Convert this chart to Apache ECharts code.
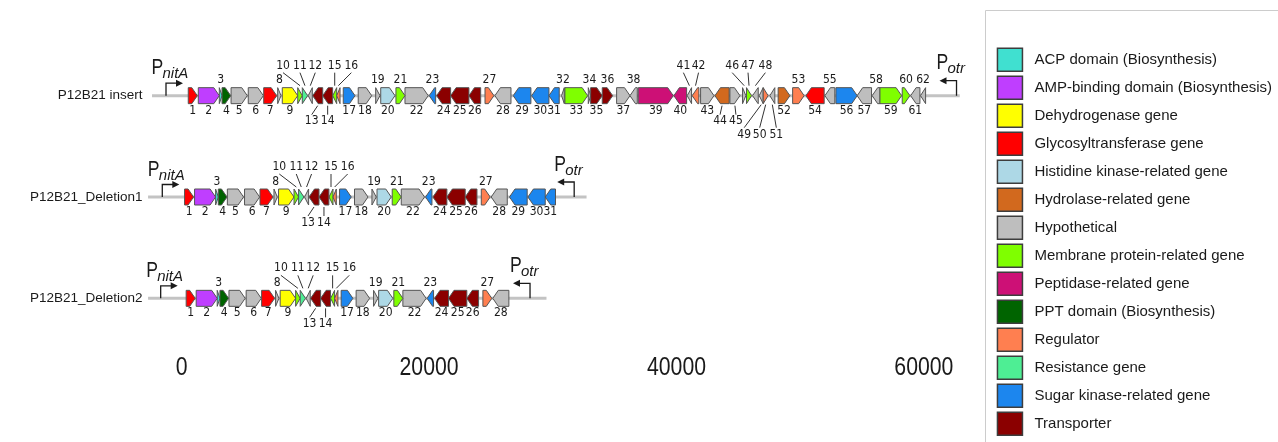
<!DOCTYPE html>
<html>
<head>
<meta charset="utf-8">
<script src="https://cdn.jsdelivr.net/npm/echarts@6/dist/echarts.min.js"></script>
<style>
  html, body { margin: 0; padding: 0; background: #fff; }
  #chart { width: 1278px; height: 442px; }
</style>
</head>
<body>
<div id="chart"></div>
<script>
// gene functional categories (legend order)
const categories = [
  'ACP domain (Biosynthesis)', 'AMP-binding domain (Biosynthesis)', 'Dehydrogenase gene',
  'Glycosyltransferase gene', 'Histidine kinase-related gene', 'Hydrolase-related gene',
  'Hypothetical', 'Membrane protein-related gene', 'Peptidase-related gene',
  'PPT domain (Biosynthesis)', 'Regulator', 'Resistance gene',
  'Sugar kinase-related gene', 'Transporter'
];
const catColors = [
  '#40e0d0', '#bf3eff', '#ffff00', '#ff0000', '#add8e6', '#d2691e', '#bebebe',
  '#7fff00', '#cd1076', '#006400', '#ff7f50', '#4eee94', '#1c86ee', '#8b0000'
];

const rowNames = ['P12B21 insert', 'P12B21_Deletion1', 'P12B21_Deletion2'];

// genes 1..62 of the insert (bp)
const geneStart = [
  530, 1340, 3040, 3260, 3990, 5380, 6630, 7760, 8130, 9380,
  9750, 10230, 10590, 11400, 12210, 12530, 13060, 14270, 15680, 16090,
  17320, 18050, 20010, 20610, 21740, 23220, 24520, 25320, 26800, 28290,
  29690, 30710, 30980, 32870, 33060, 34000, 35160, 36240, 36910, 39790,
  40870, 41270, 41950, 43110, 44320, 45340, 45660, 46150, 46690, 47010,
  47550, 48220, 49390, 50460, 52000, 52890, 54610, 55820, 56450, 58250,
  58930, 59730
];
const geneEnd = [
  1260, 3040, 3260, 3960, 5300, 6600, 7680, 8030, 9380, 9750,
  10180, 10560, 11400, 12200, 12530, 12800, 14010, 15360, 16030, 17240,
  18050, 19930, 20530, 21740, 23220, 24170, 25240, 26620, 28230, 29690,
  30520, 30930, 32820, 33060, 34000, 34840, 36240, 36830, 39740, 40820,
  41220, 41810, 43030, 44260, 45130, 45610, 46070, 46610, 47010, 47410,
  47950, 49170, 50320, 51940, 52800, 54610, 55770, 56450, 58200, 58870,
  59680, 60140
];
const geneStrand = [
  1, 1, 1, 1, 1, 1, 1, 1, 1, 1,
  1, -1, -1, -1, -1, -1, 1, 1, 1, 1,
  1, 1, -1, -1, -1, -1, 1, -1, -1, -1,
  -1, -1, 1, 1, 1, 1, 1, -1, 1, -1,
  -1, -1, 1, -1, 1, 1, 1, -1, -1, 1,
  -1, 1, 1, -1, -1, 1, -1, -1, 1, 1,
  -1, -1
];
// index into categories
const geneType = [
  3, 1, 0, 9, 6, 6, 3, 6, 2, 7,
  11, 6, 13, 13, 7, 10, 12, 6, 6, 4,
  7, 6, 12, 13, 13, 13, 10, 6, 12, 12,
  12, 6, 7, 6, 13, 13, 6, 6, 8, 8,
  6, 10, 6, 5, 6, 6, 7, 6, 6, 10,
  6, 5, 10, 3, 6, 12, 6, 6, 7, 7,
  6, 6
];

const rowGeneCount = [62, 31, 28];
const rowShift = [0, -300, -170];
const backboneStart = [-2400, -2720, -2720];
const backboneEnd = [62900, 32730, 29490];
const nitAPos = [-1270, -1570, -1700];
const otrPos = [62640, 31730, 28160];
const xTicks = [0, 20000, 40000, 60000];

// label placement of gene numbers (px offsets)
const labelUp = [3, 8, 19, 21, 23, 27, 32, 34, 36, 38, 53, 55, 58, 60, 62];
const labelUpFar = { 10: -17, 11: -5, 12: 5, 15: 0, 16: 13, 41: -6, 42: 3, 46: -12, 47: -1, 48: 10 };
const labelDownFar = { 13: -6, 14: 0, 44: -2, 45: 1 };
const labelDownFarther = { 49: -17, 50: -6, 51: 4 };

const HALF = 8;
const numFont = '12px "DejaVu Sans Condensed", "DejaVu Sans", sans-serif';
const sans = '"Liberation Sans", Arial, sans-serif';

function geneShape(params, api) {
  const a = api.coord([api.value(0), api.value(2)]);
  const b = api.coord([api.value(1), api.value(2)]);
  const x1 = a[0], x2 = b[0], cy = a[1];
  const head = Math.min(5.5, x2 - x1);
  const top = cy - HALF, bot = cy + HALF;
  const pts = api.value(3) > 0
    ? [[x1, top], [x2 - head, top], [x2, cy], [x2 - head, bot], [x1, bot]]
    : [[x2, top], [x1 + head, top], [x1, cy], [x1 + head, bot], [x2, bot]];
  return {
    type: 'polygon',
    shape: { points: pts },
    style: { fill: api.visual('color'), stroke: '#555555', lineWidth: 1 }
  };
}

const geneSeries = categories.map((name, ci) => {
  const data = [];
  rowNames.forEach((_, r) => {
    for (let g = 0; g < rowGeneCount[r]; g++) {
      if (geneType[g] !== ci) continue;
      data.push([geneStart[g] + rowShift[r], geneEnd[g] + rowShift[r], r, geneStrand[g], g + 1]);
    }
  });
  return {
    type: 'custom',
    name,
    itemStyle: { color: catColors[ci] },
    renderItem: geneShape,
    encode: { x: [0, 1], y: 2 },
    data,
    z: 3
  };
});

const labelData = [];
rowNames.forEach((_, r) => {
  for (let g = 0; g < rowGeneCount[r]; g++) {
    labelData.push([geneStart[g] + rowShift[r], geneEnd[g] + rowShift[r], r, g + 1]);
  }
});

function labelShape(params, api) {
  const num = api.value(3);
  const a = api.coord([api.value(0), api.value(2)]);
  const b = api.coord([api.value(1), api.value(2)]);
  const cx = (a[0] + b[0]) / 2, cy = a[1];
  const top = cy - HALF, bot = cy + HALF;
  const children = [];
  const line = (x1, y1, x2, y2) => children.push({
    type: 'line', shape: { x1, y1, x2, y2 }, style: { stroke: '#333', lineWidth: 1 }
  });
  let tx = cx, ty = bot + 7;
  if (labelUp.includes(num)) {
    ty = top - 7.5;
  } else if (num in labelUpFar) {
    tx = cx + labelUpFar[num];
    ty = top - 22;
    line(tx, top - 15, cx, top - 2);
  } else if (num in labelDownFar) {
    tx = cx + labelDownFar[num];
    ty = bot + 17.5;
    line(cx, bot + 2, tx, bot + 11);
  } else if (num in labelDownFarther) {
    tx = cx + labelDownFarther[num];
    ty = bot + 31;
    line(cx, bot + 1, tx, bot + 24);
  }
  children.push({
    type: 'text',
    style: { text: String(num), x: tx, y: ty, align: 'center', verticalAlign: 'middle', fill: '#1a1a1a', font: numFont }
  });
  return { type: 'group', children };
}

const promoterData = [];
rowNames.forEach((_, r) => {
  promoterData.push([nitAPos[r], r, 1]);
  promoterData.push([otrPos[r], r, -1]);
});

function promoterShape(params, api) {
  const p = api.coord([api.value(0), api.value(1)]);
  const dir = api.value(2);
  const sub = dir > 0 ? 'nitA' : 'otr';
  const x = p[0], y = p[1];
  const yTop = y - (dir > 0 ? 12.5 : 15);
  const xEnd = x + dir * 17;
  const px = dir > 0 ? x - 14.5 : x - 20;
  const pc = yTop - (dir > 0 ? 15 : 17.5);
  return {
    type: 'group',
    children: [
      { type: 'polyline', shape: { points: [[x, y], [x, yTop], [xEnd - dir * 5, yTop]] },
        style: { stroke: '#1a1a1a', lineWidth: 1.3, fill: null } },
      { type: 'polygon', shape: { points: [[xEnd, yTop], [xEnd - dir * 7, yTop - 3.5], [xEnd - dir * 7, yTop + 3.5]] },
        style: { fill: '#1a1a1a' } },
      { type: 'text', x: px, y: pc, scaleX: 0.8,
        style: { text: 'P', x: 0, y: 0, align: 'left', verticalAlign: 'middle', fill: '#1a1a1a', font: '22px ' + sans } },
      { type: 'text', style: { text: sub, x: px + 11, y: pc + 6, align: 'left', verticalAlign: 'middle',
        fill: '#1a1a1a', font: 'italic 15px ' + sans } }
    ]
  };
}

// x tick labels drawn through the x scale (condensed look)
function tickLabelShape(params, api) {
  const p = api.coord([api.value(0), 0]);
  const cs = params.coordSys;
  return {
    type: 'text', x: p[0], y: cs.y + cs.height + 19, scaleX: 0.85,
    style: { text: String(api.value(0)), x: 0, y: 0, align: 'center', verticalAlign: 'middle',
      fill: '#1a1a1a', font: '25px ' + sans }
  };
}

const chart = echarts.init(document.getElementById('chart'), null, { renderer: 'canvas' });
chart.setOption({
  animation: false,
  backgroundColor: '#fff',
  grid: { left: 144.6, right: 319.5, top: 45, height: 304 },
  graphic: [{
    type: 'rect', silent: true, z: -1,
    shape: { x: 985.5, y: 10.5, width: 400, height: 500 },
    style: { fill: null, stroke: '#cccccc', lineWidth: 1 }
  }],
  legend: {
    orient: 'vertical',
    left: 996.7,
    top: 47.5,
    icon: 'rect',
    itemWidth: 25,
    itemHeight: 23,
    itemGap: 3.5,
    padding: 0,
    selectedMode: false,
    itemStyle: { borderColor: '#3d3d3d', borderWidth: 1.5 },
    textStyle: { fontSize: 15, color: '#1a1a1a', fontFamily: sans, padding: [0, 0, 0, 7] },
    data: categories
  },
  xAxis: {
    type: 'value',
    min: -3000,
    max: 62800,
    offset: 3,
    splitLine: { show: false },
    axisLine: { lineStyle: { color: '#555', width: 1.5 } },
    axisTick: { customValues: xTicks, length: 4, lineStyle: { color: '#777' } },
    axisLabel: { show: false }
  },
  yAxis: {
    type: 'category',
    inverse: true,
    data: rowNames,
    axisLine: { show: false },
    axisTick: { show: false },
    axisLabel: { fontSize: 13.5, color: '#1a1a1a', fontFamily: sans, margin: 2 }
  },
  series: [
    {
      type: 'custom',
      name: 'backbone',
      renderItem: (params, api) => {
        const a = api.coord([api.value(0), api.value(2)]);
        const b = api.coord([api.value(1), api.value(2)]);
        return { type: 'line', shape: { x1: a[0], y1: a[1], x2: b[0], y2: b[1] },
          style: { stroke: '#c3c3c3', lineWidth: 3 } };
      },
      encode: { x: [0, 1], y: 2 },
      data: rowNames.map((_, r) => [backboneStart[r], backboneEnd[r], r]),
      z: 1
    },
    ...geneSeries,
    {
      type: 'custom',
      name: 'labels',
      renderItem: labelShape,
      encode: { x: [0, 1], y: 2 },
      data: labelData,
      z: 4
    },
    {
      type: 'custom',
      name: 'promoters',
      renderItem: promoterShape,
      encode: { x: 0, y: 1 },
      data: promoterData,
      z: 4
    },
    {
      type: 'custom',
      name: 'xTickLabels',
      renderItem: tickLabelShape,
      encode: { x: 0 },
      data: xTicks.map(v => [v]),
      z: 4
    }
  ]
});
</script>
</body>
</html>
